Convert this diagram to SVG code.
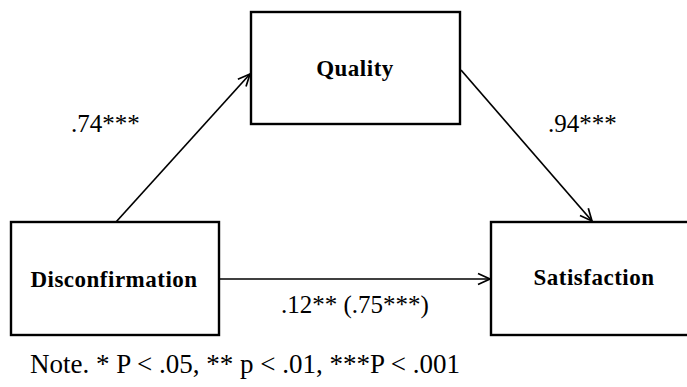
<svg xmlns="http://www.w3.org/2000/svg" width="687" height="387" viewBox="0 0 687 387">
  <defs>
    <marker id="vee" viewBox="0 0 14 14" refX="13" refY="7" markerWidth="14" markerHeight="14" markerUnits="userSpaceOnUse" orient="auto">
      <path d="M1,1.5 L13,7 L1,12.5" fill="none" stroke="#000" stroke-width="1.7"/>
    </marker>
  </defs>
  <style>
    .box { fill: #fff; stroke: #000; stroke-width: 2.4; }
    text { font-family: 'Liberation Serif', 'Times New Roman', Times, serif; fill: #000; }
    .name { font-weight: bold; font-size: 23px; letter-spacing: 0.5px; text-anchor: middle; }
    .coef { font-size: 25px; }
    .note { font-size: 27px; }
    .edge { fill: none; stroke: #000; stroke-width: 1.7; marker-end: url(#vee); }
  </style>
  <rect width="687" height="387" fill="#fff"/>

  <!-- paths between constructs -->
  <g id="connectors">
    <line class="edge" x1="116" y1="222" x2="250" y2="74"/>
    <line class="edge" x1="461" y1="70" x2="592" y2="221"/>
    <line class="edge" x1="219" y1="279" x2="490" y2="279"/>
  </g>

  <g id="disconfirmation">
    <rect class="box" x="11" y="222" width="208" height="113"/>
    <text class="name" x="114" y="287">Disconfirmation</text>
  </g>

  <g id="quality">
    <rect class="box" x="251" y="12" width="209" height="112"/>
    <text class="name" x="355" y="76">Quality</text>
  </g>

  <g id="satisfaction">
    <rect class="box" x="491" y="222" width="220" height="113"/>
    <text class="name" x="594" y="285">Satisfaction</text>
  </g>

  <!-- path coefficients -->
  <text class="coef" x="71" y="132">.74***</text>
  <text class="coef" x="548" y="132">.94***</text>
  <text class="coef" x="355" y="313" font-size="26" text-anchor="middle">.12** (.75***)</text>

  <text class="note" x="30" y="373">Note. * P &lt; .05, ** p &lt; .01, ***P &lt; .001</text>
</svg>
